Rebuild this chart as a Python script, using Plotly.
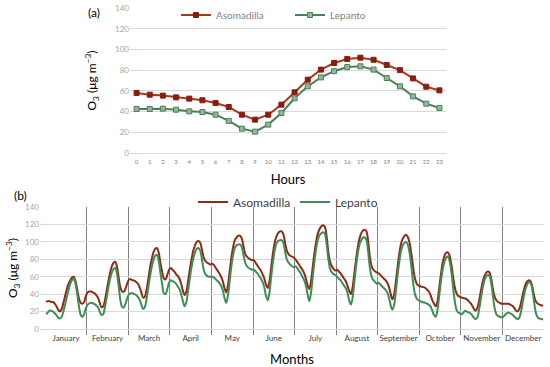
import plotly.graph_objects as go

# ---------------- Panel (a): mean diurnal cycle ----------------
hours = list(range(24))
asom_hourly = [58, 56.3, 55.4, 53.7, 52.5, 50.9, 48.3, 44.4, 37, 32.2, 37, 46.7,
               58.6, 70.8, 80.5, 86.9, 90.8, 92, 90, 85, 80, 72, 64, 60.5]
lep_hourly = [42.5, 42.5, 42.8, 41.8, 40.2, 39.6, 37, 31, 23.5, 20.6, 27.4, 38.6,
              52.8, 64.4, 73, 79, 83, 83.7, 80.5, 72.4, 64.4, 54.7, 47.6, 43.5]

# ---------------- Panel (b): diurnal cycle per month ----------------
months = ["January", "February", "March", "April", "May", "June", "July",
          "August", "September", "October", "November", "December"]

asom_monthly = [
    [31, 32, 32, 31, 31, 29, 26, 22, 20, 23, 30, 38, 46, 52, 56, 59, 60, 55, 45, 35, 30, 29, 31, 38],
    [42, 43, 43, 42, 41, 39, 36, 30, 25, 26, 33, 44, 55, 65, 72, 76, 77, 71, 58, 47, 43, 43, 47, 53],
    [57, 57, 56, 55.5, 54, 52, 48, 42, 36, 37, 45, 57, 70, 80, 88, 92, 93, 88, 76, 66, 58, 57, 62, 68],
    [70, 68, 66, 63, 61, 58, 52, 44, 39, 43, 55, 68, 80, 90, 96, 100, 101, 99, 91, 82, 78, 76, 75, 74],
    [75, 73, 70, 67, 64, 60, 55, 47, 42, 50, 66, 82, 94, 102, 105, 107, 107, 104, 95, 86, 83, 81, 80, 79],
    [79, 76, 73, 70, 67, 63, 58, 51, 47, 55, 71, 87, 99, 106, 110, 112, 112, 109, 99, 90, 86, 84, 83, 82],
    [80, 77, 74, 71, 68, 64, 58, 50, 46, 55, 72, 88, 101, 110, 115, 118, 119, 117, 106, 88, 77, 72, 69, 67],
    [68, 66, 64, 61, 58, 55, 50, 44, 40, 48, 64, 80, 94, 104, 110, 113, 114, 112, 100, 82, 72, 68, 66, 65],
    [64, 62, 60, 58, 56, 53, 48, 40, 34, 40, 55, 72, 87, 98, 104, 107, 108, 105, 98, 85, 70, 58, 52, 50],
    [49, 48.5, 48, 47, 45, 43, 39, 33, 29, 26, 32, 47, 63, 76, 84, 87.5, 88, 84, 74, 60, 48, 41, 38, 37],
    [36, 35.5, 35, 34, 32, 30, 27, 23, 21, 24, 32, 43, 53, 60, 64, 66, 65, 58, 46, 37, 33, 31, 30, 29],
    [29, 29, 29, 29, 28, 27, 25, 22, 20, 22, 28, 37, 46, 52, 55, 56, 54, 46, 36, 31, 29, 28, 27, 27],
]
lep_monthly = [
    [17, 19, 21, 21, 20, 18, 16, 13, 12, 14, 20, 28, 37, 45, 52, 56, 58, 52, 40, 26, 16, 14, 17, 24],
    [28, 29.5, 30, 29.5, 28.5, 27, 25, 20, 16, 17, 25, 36, 48, 58, 65, 69, 70, 63, 48, 32, 25, 25, 30, 36],
    [40, 41, 41, 40, 39, 37, 34, 28, 23, 25, 34, 47, 60, 71, 79, 84, 85, 79, 65, 52, 41, 40, 46, 53],
    [56, 55, 54, 52, 49, 46, 40, 32, 26, 31, 44, 58, 71, 81, 88, 92, 93, 90, 80, 68, 63, 61, 60, 60],
    [60, 59, 57, 55, 53, 50, 45, 36, 30, 38, 55, 72, 85, 93, 96, 97, 97, 94, 85, 76, 72, 70, 69, 68],
    [68, 66, 64, 61, 58, 54, 48, 38, 33, 42, 60, 77, 90, 98, 101, 102, 102, 99, 89, 80, 76, 74, 72, 71],
    [72, 70, 67, 64, 60, 56, 50, 40, 32, 42, 60, 78, 93, 103, 108, 110, 111, 109, 97, 80, 69, 65, 63, 62],
    [60, 58, 56, 53, 50, 47, 42, 33, 28, 36, 54, 72, 87, 97, 102, 105, 105, 102, 88, 70, 60, 56, 54, 52],
    [53, 51, 49, 47, 45, 42, 36, 27, 22, 28, 44, 62, 78, 90, 96, 99, 100, 96, 86, 70, 52, 40, 35, 33],
    [32, 31, 30.5, 30, 29, 28, 26, 21, 16, 14, 22, 38, 55, 68, 77, 82, 83, 78, 66, 48, 32, 22, 19, 18],
    [17, 19, 21, 20, 19, 18, 16, 13, 11.5, 13, 22, 34, 46, 55, 60, 62, 61, 53, 38, 24, 17, 15, 14, 13.5],
    [14, 16, 18, 19, 18, 17, 15, 13, 11.5, 12, 18, 28, 39, 47, 52, 54, 52, 42, 28, 17, 13, 12, 11.5, 11],
]

yticks = [0, 20, 40, 60, 80, 100, 120, 140]

RED_LINE = "#A33A1F"
RED_MARK = "#8B1C10"
GRN_LINE = "#4A7F5B"
GRN_MARK = "#96B39B"
RED_B = "#8E2A17"
GRN_B = "#3C8E55"
GRID = "#D9D9D9"
FONT = "Lato"

fig = go.Figure()

# panel (a)
fig.add_trace(go.Scatter(x=hours, y=asom_hourly, name="Asomadilla", mode="lines+markers",
                         line=dict(color=RED_LINE, width=2),
                         marker=dict(symbol="square", size=5, color=RED_MARK,
                                     line=dict(color=RED_MARK, width=1)),
                         xaxis="x", yaxis="y", legend="legend"))
fig.add_trace(go.Scatter(x=hours, y=lep_hourly, name="Lepanto", mode="lines+markers",
                         line=dict(color=GRN_LINE, width=2),
                         marker=dict(symbol="square", size=5, color=GRN_MARK,
                                     line=dict(color=GRN_LINE, width=1)),
                         xaxis="x", yaxis="y", legend="legend"))

# panel (b)
xs = [m * 24 + h for m in range(12) for h in range(24)]
asom_flat = [v for row in asom_monthly for v in row]
lep_flat = [v for row in lep_monthly for v in row]
fig.add_trace(go.Scatter(x=xs, y=asom_flat, name="Asomadilla", mode="lines",
                         line=dict(color=RED_B, width=2, shape="spline", smoothing=0.9),
                         xaxis="x2", yaxis="y2", legend="legend2"))
fig.add_trace(go.Scatter(x=xs, y=lep_flat, name="Lepanto", mode="lines",
                         line=dict(color=GRN_B, width=2, shape="spline", smoothing=0.9),
                         xaxis="x2", yaxis="y2", legend="legend2"))

W, H = 550, 367
px_x = lambda v: v / W
px_y = lambda v: (H - v) / H

sep_vals = [24 * k - 0.5 for k in range(1, 12)]
centers = [24 * m + 11.5 for m in range(12)]

fig.update_layout(
    width=W, height=H,
    margin=dict(l=0, r=0, t=0, b=0, autoexpand=False),
    paper_bgcolor="white", plot_bgcolor="white",
    font=dict(family=FONT, color="#595959"),
    showlegend=True,
    xaxis=dict(domain=[px_x(130), px_x(446)], range=[-0.5, 23.5],
               tickmode="array", tickvals=hours, ticktext=[str(h) for h in hours],
               tickfont=dict(size=6, color="#7F7F7F"), showgrid=False, zeroline=False,
               ticks="", showline=False, ticklabelstandoff=4,
               title=dict(text="Hours", font=dict(size=13, color="#000000"), standoff=10),
               anchor="y", automargin=False),
    yaxis=dict(domain=[px_y(153), px_y(8)], range=[0, 140],
               tickmode="array", tickvals=yticks,
               tickfont=dict(size=8, color="#A6A6A6"), showgrid=True, gridcolor=GRID,
               gridwidth=1, zeroline=True, zerolinecolor=GRID, zerolinewidth=1,
               ticks="", showline=False,
               title=dict(text="O<sub>3</sub> (μg m<sup>−3</sup>)",
                          font=dict(size=12, color="#000000"), standoff=15),
               anchor="x", automargin=False),
    xaxis2=dict(domain=[px_x(40), px_x(544)], range=[-3.5, 287.5],
                tickmode="array", tickvals=centers, ticktext=months,
                tickfont=dict(size=8, color="#404040"), showgrid=False, zeroline=False,
                ticks="", showline=False, ticklabelstandoff=3,
                minor=dict(tickmode="array", tickvals=sep_vals, showgrid=True,
                           gridcolor="#808080", gridwidth=1.2, ticks="outside",
                           ticklen=5, tickcolor="#808080", tickwidth=1),
                title=dict(text="Months", font=dict(size=13, color="#000000"), standoff=12),
                anchor="y2", automargin=False),
    yaxis2=dict(domain=[px_y(329), px_y(207)], range=[0, 140],
                tickmode="array", tickvals=yticks,
                tickfont=dict(size=8, color="#A6A6A6"), showgrid=True, gridcolor=GRID,
                gridwidth=1, zeroline=True, zerolinecolor=GRID, zerolinewidth=1,
                ticks="", showline=False,
                title=dict(text="O<sub>3</sub> (μg m<sup>−3</sup>)",
                           font=dict(size=12, color="#000000"), standoff=4),
                anchor="x2", automargin=False),
    legend=dict(orientation="h", x=px_x(176), y=px_y(15), xanchor="left", yanchor="middle",
                font=dict(size=10, color="#7F7F7F"), bgcolor="rgba(0,0,0,0)",
                entrywidth=69, entrywidthmode="pixels", itemwidth=30,
                tracegroupgap=0),
    legend2=dict(orientation="h", x=px_x(193), y=px_y(202), xanchor="left", yanchor="middle",
                 font=dict(size=12, color="#404040"), bgcolor="rgba(0,0,0,0)",
                 entrywidth=57, entrywidthmode="pixels", itemwidth=30),
    annotations=[
        dict(text="(a)", x=px_x(94), y=px_y(12), xref="paper", yref="paper",
             xanchor="center", yanchor="middle",
             showarrow=False, font=dict(size=12, color="#000000")),
        dict(text="(b)", x=px_x(20), y=px_y(195), xref="paper", yref="paper",
             xanchor="center", yanchor="middle",
             showarrow=False, font=dict(size=12, color="#000000")),
    ],
)

fig.write_html("out.html", config={"displayModeBar": False},
               post_script="document.body.style.margin='0';document.body.style.padding='0';")
